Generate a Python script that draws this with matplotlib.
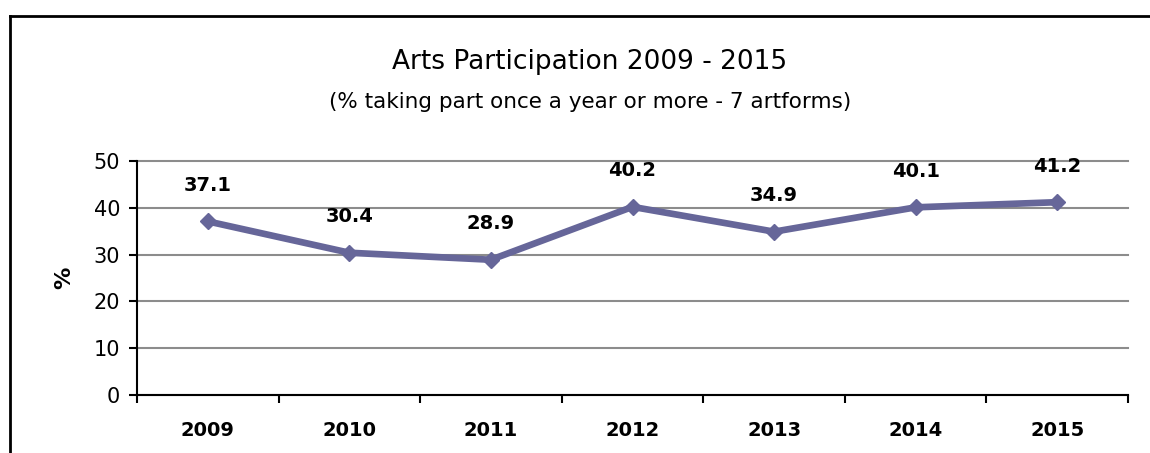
import matplotlib.pyplot as plt
from matplotlib.lines import Line2D

# participation data
years = ["2009", "2010", "2011", "2012", "2013", "2014", "2015"]
participation = [37.1, 30.4, 28.9, 40.2, 34.9, 40.1, 41.2]

plt.rcParams['font.family'] = ['DejaVu Sans']

fig = plt.figure(figsize=(11.5, 4.53), dpi=100)
ax = fig.add_axes([0.1191, 0.128, 0.8618, 0.5166])

x = range(len(years))
ax.plot(x, participation, color='#666699', linewidth=4.8, marker='D',
        markersize=8, solid_joinstyle='round', zorder=3)

for xi, val in zip(x, participation):
    ax.annotate(f"{val:.1f}", (xi, val), xytext=(0, 26), textcoords='offset points',
                ha='center', va='center', fontsize=14, fontweight='bold', color='black')

ax.set_xlim(-0.5, len(years) - 0.5)
ax.set_ylim(0, 50)
ax.set_yticks(range(0, 51, 10))
ax.set_yticklabels([str(v) for v in range(0, 51, 10)], fontsize=15)
ax.yaxis.grid(True, color='#8c8c8c', linewidth=1.5)
for gl in ax.get_ygridlines():
    gl.set_clip_on(False)
ax.set_axisbelow(True)

# category ticks sit on the boundaries, labels in the middle
ax.set_xticks([i - 0.5 for i in range(len(years) + 1)])
ax.set_xticklabels([])
ax.set_xticks(list(x), minor=True)
ax.set_xticklabels(years, minor=True, fontsize=14, fontweight='bold')
ax.tick_params(axis='x', which='minor', length=0, pad=19)
ax.tick_params(axis='x', which='major', length=6, width=1.5, direction='out')
ax.tick_params(axis='y', length=6, width=1.5, direction='out', pad=6)

ax.spines['top'].set_visible(False)
ax.spines['right'].set_visible(False)
ax.spines['left'].set_linewidth(1.5)
ax.spines['bottom'].set_linewidth(1.5)

ax.set_ylabel("%", fontsize=16, fontweight='bold', labelpad=14)

fig.text(0.513, 0.863, "Arts Participation 2009 - 2015", ha='center', va='center', fontsize=19)
fig.text(0.513, 0.775, "(% taking part once a year or more - 7 artforms)", ha='center', va='center',
         fontsize=15.5)

# outer frame (top and left edges)
fig.add_artist(Line2D([0.0087, 1.0], [0.965, 0.965], color='black', linewidth=2,
                      transform=fig.transFigure))
fig.add_artist(Line2D([0.0087, 0.0087], [0.0, 0.965], color='black', linewidth=2,
                      transform=fig.transFigure))

fig.savefig("out.png", dpi=100)
